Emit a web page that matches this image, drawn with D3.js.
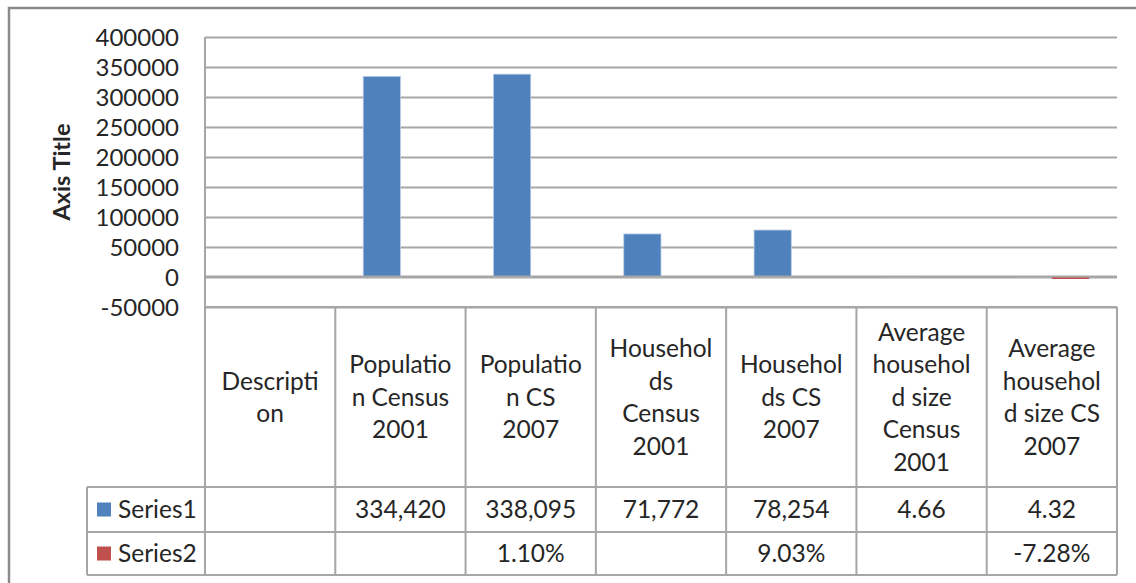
<!DOCTYPE html>
<html>
<head>
<meta charset="utf-8">
<script src="https://cdn.jsdelivr.net/npm/d3@7"></script>
<style>
  html, body { margin: 0; padding: 0; background: #fff; }
  svg { display: block; }
  text { font-family: Lato, "Open Sans", sans-serif; fill: #262626; }
</style>
</head>
<body>
<svg id="chart" width="1136" height="583"></svg>
<script>
// ---- data ----
const categories = [
  "Description",
  "Population Census 2001",
  "Population CS 2007",
  "Households Census 2001",
  "Households CS 2007",
  "Average household size Census 2001",
  "Average household size CS 2007"
];
// wrapped lines as shown in the data table header
const categoryLines = [
  ["Descripti", "on"],
  ["Populatio", "n Census", "2001"],
  ["Populatio", "n CS", "2007"],
  ["Househol", "ds", "Census", "2001"],
  ["Househol", "ds CS", "2007"],
  ["Average", "househol", "d size", "Census", "2001"],
  ["Average", "househol", "d size CS", "2007"]
];
const seriesNames = ["Series1", "Series2"];
const series1 = [null, 334420, 338095, 71772, 78254, 4.66, 4.32];
const series2 = [null, null, 0.011, null, 0.0903, null, -0.0728];
const seriesColors = ["#4F81BD", "#C0504D"];
const yTicks = [-50000, 0, 50000, 100000, 150000, 200000, 250000, 300000, 350000, 400000];
const axisTitle = "Axis Title";

// ---- layout ----
const svg = d3.select("#chart");
const W = 1136, H = 583;
const plotL = 205, plotR = 1117, plotT = 37, plotB = 307;
const tableT = 307, headB = 487, row1B = 532, row2B = 575, legendL = 87;
const gridColor = "#a6a6a6";
const hyphen = s => s.replace(/\u2212/g, "-");

svg.append("rect").attr("x", 0).attr("y", 0).attr("width", W).attr("height", H).attr("fill", "#fff");
// outer chart frame (right/bottom edges lie outside the picture)
svg.append("rect").attr("x", 9).attr("y", 8).attr("width", W + 20).attr("height", H + 20)
  .attr("fill", "none").attr("stroke", "#8a8a8a").attr("stroke-width", 2.5);

const x0 = d3.scaleBand().domain(categories).range([plotL, plotR]).padding(0);
const bw = x0.bandwidth();
const x1 = d3.scaleBand().domain(seriesNames).range([bw * 0.75 / 3.5, bw - bw * 0.75 / 3.5]).padding(0);
const y = d3.scaleLinear().domain([-50000, 400000]).range([plotB, plotT]);

// gridlines
const yAxis = d3.axisLeft(y).tickValues(yTicks).tickSize(-(plotR - plotL))
  .tickFormat(v => hyphen(d3.format("d")(v))).tickPadding(26);
const gAxis = svg.append("g").attr("transform", `translate(${plotL},0)`).call(yAxis);
gAxis.select(".domain").remove();
gAxis.selectAll(".tick line").attr("stroke", gridColor).attr("stroke-width", 2);
gAxis.selectAll(".tick text").attr("font-size", 24).attr("fill", "#262626")
  .attr("font-family", "Lato, sans-serif").attr("dy", "0.36em");

// vertical axis line
svg.append("line").attr("x1", plotL).attr("x2", plotL).attr("y1", plotT).attr("y2", plotB)
  .attr("stroke", gridColor).attr("stroke-width", 2);

// axis title
svg.append("text").attr("transform", `translate(70,${(plotT + 277) / 2 + 15}) rotate(-90)`)
  .attr("text-anchor", "middle").attr("font-size", 23.5).attr("font-weight", "bold").attr("fill", "#000")
  .text(axisTitle);

// bars
const seriesData = [series1, series2];
seriesData.forEach((vals, si) => {
  svg.append("g").selectAll("rect")
    .data(vals.map((v, i) => ({ v, c: categories[i] })).filter(d => d.v !== null))
    .join("rect")
    .attr("x", d => x0(d.c) + x1(seriesNames[si]))
    .attr("width", x1.bandwidth())
    .attr("y", d => d.v >= 0 ? y(d.v) : y(0))
    .attr("height", d => d.v >= 0 ? y(0) - y(d.v) : Math.max(y(d.v) - y(0), 2))
    .attr("fill", seriesColors[si])
    .attr("stroke", si === 0 ? "#b9cce4" : "none").attr("stroke-width", 0.8);
});

// zero line on top
svg.append("line").attr("x1", plotL).attr("x2", plotR).attr("y1", y(0) - 0.5).attr("y2", y(0) - 0.5)
  .attr("stroke", gridColor).attr("stroke-width", 2);

// ---- data table ----
const tg = svg.append("g");
const line = (xa, ya, xb, yb) => tg.append("line").attr("x1", xa).attr("y1", ya).attr("x2", xb).attr("y2", yb)
  .attr("stroke", gridColor).attr("stroke-width", 2);
line(plotL, tableT, plotR, tableT);
line(legendL, headB, plotR, headB);
line(legendL, row1B, plotR, row1B);
line(legendL, row2B, plotR, row2B);
line(legendL, headB, legendL, row2B);
categories.forEach(c => line(x0(c), tableT, x0(c), row2B));
line(plotR, tableT, plotR, row2B);

const lh = 32.5;
const fs = 24.5;
categories.forEach((c, i) => {
  const lines = categoryLines[i];
  const cy = (tableT + headB) / 2;
  const t = tg.append("text").attr("text-anchor", "middle").attr("font-size", fs)
    .attr("x", x0(c) + bw / 2);
  lines.forEach((ln, k) => {
    t.append("tspan").attr("x", x0(c) + bw / 2)
      .attr("y", cy + (k - (lines.length - 1) / 2) * lh).attr("dy", "0.36em").text(ln);
  });
});

const fmt1 = v => hyphen(v >= 1000 ? d3.format(",")(v) : d3.format(".2f")(v));
const fmt2 = v => hyphen(d3.format(".2%")(v));
const rowMid = [(headB + row1B) / 2, (row1B + row2B) / 2];
seriesData.forEach((vals, si) => {
  vals.forEach((v, i) => {
    if (v === null) return;
    tg.append("text").attr("text-anchor", "middle").attr("font-size", fs)
      .attr("x", x0(categories[i]) + bw / 2).attr("y", rowMid[si]).attr("dy", "0.36em")
      .text(si === 0 ? fmt1(v) : fmt2(v));
  });
  // legend key + name
  tg.append("rect").attr("x", 97).attr("y", rowMid[si] - 7).attr("width", 14).attr("height", 14)
    .attr("fill", seriesColors[si]);
  tg.append("text").attr("x", 118).attr("y", rowMid[si]).attr("dy", "0.36em").attr("font-size", fs)
    .text(seriesNames[si]);
});
</script>
</body>
</html>
